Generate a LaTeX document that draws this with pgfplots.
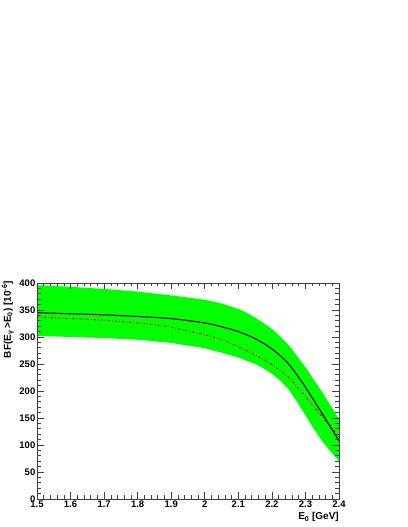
\documentclass[border=0pt]{standalone}
\usepackage{fontspec}
\setmainfont{Liberation Sans}
\usepackage{pgfplots}
\pgfplotsset{compat=1.18}
\usepackage{pgfplotstable}

% x, central curve, red dash-dot curve
\pgfplotstableread{
x     cen  red
1.50  345  337
1.60  343  334
1.70  341  331
1.80  338  326
1.90  334  318
2.00  326  304
2.05  319  295
2.10  310  282
2.15  297  267
2.20  278  249
2.25  250  225
2.30  207  190
2.35  158  152
2.40  108  116
}\curves

% error band outline: upper edge left to right, then lower edge right to left
\pgfplotstableread{
x     y
1.50  396
1.60  393
1.70  389
1.80  384
1.90  377
2.00  369
2.05  362
2.10  352
2.125 345
2.15  336
2.175 326
2.20  315
2.225 301
2.25  285
2.275 265
2.30  244
2.325 221
2.35  198
2.375 173
2.40  148
2.40   70
2.375  88
2.35  107
2.325 130
2.30  155
2.275 180
2.25  203
2.225 219
2.20  232
2.175 242
2.15  250
2.125 256
2.10  262
2.05  271
2.00  279
1.90  289
1.80  295
1.70  298
1.60  300
1.50  302
}\band

\definecolor{bandgreen}{rgb}{0,1,0}
\colorlet{axisgray}{black!75}

\begin{document}
\begin{tikzpicture}
\fill[white] (0,0) rectangle (407pt,527pt);
\begin{axis}[
  at={(37pt,28pt)}, anchor=south west,
  scale only axis, width=302pt, height=216pt,
  xmin=1.5, xmax=2.4, ymin=0, ymax=400,
  xtick={1.5,1.6,...,2.4},
  ytick={0,50,...,400},
  minor tick num=4,
  tick pos=both, tick align=inside,
  major tick length=6.5pt, minor tick length=3.5pt,
  axis line style={axisgray, line width=0.8pt},
  tick style={axisgray, line width=0.6pt},
  /pgf/number format/assume math mode=true,
  ticklabel style={font=\bfseries\fontsize{9.5}{11}\selectfont},
  yticklabel style={inner sep=1.5pt},
  xticklabel style={inner sep=2pt},
  axis on top,
]
\addplot[fill=bandgreen, draw=none] table[x=x, y=y] {\band} -- cycle;
\addplot[red, line width=1.1pt, dash pattern=on 2pt off 2.2pt on 0.7pt off 2.2pt, smooth]
  table[x=x, y=red] {\curves};
\addplot[black, line width=1.1pt, smooth] table[x=x, y=cen] {\curves};
\end{axis}
\node[rotate=90, anchor=east, font=\bfseries\fontsize{10}{12}\selectfont, inner sep=0pt]
  at (8pt,246pt) {BF(E\textsubscript{γ}\,>E\textsubscript{0}) [10\textsuperscript{-6}]};
\node[anchor=east, font=\bfseries\fontsize{10}{12}\selectfont, inner sep=0pt]
  at (339pt,10pt) {E\textsubscript{0} [GeV]};
\end{tikzpicture}
\end{document}
